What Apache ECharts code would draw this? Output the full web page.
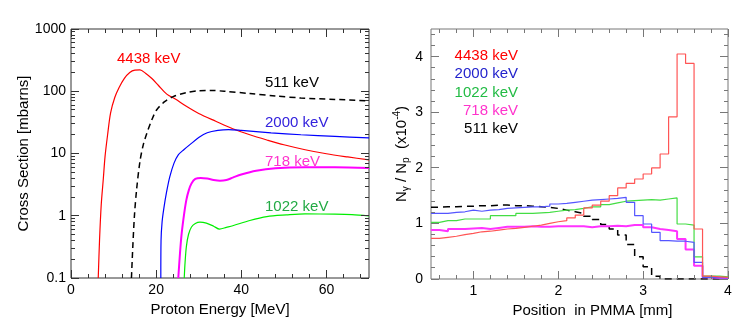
<!DOCTYPE html>
<html>
<head>
<meta charset="utf-8">
<script src="https://cdn.jsdelivr.net/npm/echarts@6/dist/echarts.min.js"></script>
<style>
html, body { margin: 0; padding: 0; background: #fff; }
#main { width: 747px; height: 328px; }
</style>
</head>
<body>
<div id="main"></div>
<script>
// left panel: cross section [mbarns] vs proton energy [MeV]
var e4438 = [6.4, 6.7, 7.1, 7.6, 8.0, 8.6, 9.3, 10.3, 11.3, 12.5, 13.8, 15.0, 16.2, 17.5, 19.0, 20.5, 22.5, 24.5, 27, 30, 34, 38, 42, 46, 50, 55, 60, 65, 70];
var s4438 = [0.1, 0.4, 1.5, 4, 9, 20, 45, 80, 115, 160, 200, 218, 220, 195, 160, 125, 90, 75, 58, 44, 33, 25, 20, 16.5, 13.8, 11.5, 9.9, 8.8, 7.9];
var e511 = [14.2, 14.5, 14.9, 15.4, 16.2, 17, 17.8, 19, 20.1, 22, 24, 27, 30, 33, 36, 42, 48, 54, 62, 70];
var s511 = [0.1, 0.3, 1, 2.6, 7.5, 14, 21, 35, 50, 68, 82, 95, 102, 103, 100, 92, 84, 78, 74, 70];
var e2000 = [21.1, 21.15, 21.4, 21.8, 22.4, 23.2, 24.2, 25.2, 26.5, 28, 30, 32, 34.5, 37, 40, 47, 54, 62, 70];
var s2000 = [0.1, 0.4, 0.8, 1.3, 2.3, 4.2, 7, 9.5, 11.5, 14, 18, 21.5, 23.5, 24.2, 23.5, 21.5, 20, 18.8, 17.8];
var e718 = [25.2, 25.6, 26, 26.6, 27.1, 27.7, 28.3, 29.2, 30.5, 32, 33.5, 35, 36.5, 38, 40, 43.5, 48, 55, 62, 70];
var s718 = [0.1, 0.25, 0.52, 1.1, 1.8, 2.6, 3.3, 3.9, 4.05, 3.95, 3.75, 3.65, 3.75, 4.1, 4.6, 5.3, 5.8, 6.0, 6.0, 5.85];
var e1022 = [26.6, 26.8, 27.1, 27.6, 28.3, 29.2, 30.3, 31.8, 33.5, 34.9, 36.5, 38, 42, 46, 50.6, 55, 62, 66, 70];
var s1022 = [0.1, 0.18, 0.32, 0.5, 0.66, 0.75, 0.79, 0.76, 0.68, 0.61, 0.65, 0.69, 0.84, 0.97, 1.03, 1.07, 1.06, 1.04, 0.99];

// right panel: N_gamma / N_p (x1e-4) per 0.1 mm bin
var binEdges = [0.5, 0.6, 0.7, 0.8, 0.9, 1.0, 1.1, 1.2, 1.3, 1.4, 1.5, 1.6, 1.7, 1.8, 1.9, 2.0, 2.1, 2.2, 2.3, 2.4,
  2.5, 2.6, 2.7, 2.8, 2.9, 3.0, 3.1, 3.2, 3.3, 3.4, 3.5, 3.6, 3.7, 3.8, 3.9, 4.0];
var h4438 = [0.73, 0.75, 0.77, 0.80, 0.82, 0.85, 0.86, 0.88, 0.90, 0.91, 0.93, 0.95, 0.97, 1.00, 1.03, 1.05, 1.10, 1.15, 1.28, 1.33,
  1.40, 1.50, 1.64, 1.72, 1.80, 1.89, 2.00, 2.25, 2.92, 4.05, 3.88, 0.90, 0.05, 0.04, 0.03];
var h2000 = [1.18, 1.18, 1.20, 1.21, 1.24, 1.22, 1.24, 1.25, 1.27, 1.28, 1.29, 1.30, 1.30, 1.31, 1.35, 1.36, 1.38, 1.40, 1.42, 1.43,
  1.44, 1.45, 1.47, 1.38, 1.14, 0.99, 0.84, 0.69, 0.68, 0.68, 0.66, 0.30, 0.03, 0.02, 0.02];
var h1022 = [1.02, 1.05, 1.05, 1.08, 1.08, 1.08, 1.08, 1.14, 1.14, 1.14, 1.18, 1.18, 1.19, 1.20, 1.22, 1.24, 1.25, 1.27, 1.30, 1.30,
  1.34, 1.37, 1.40, 1.41, 1.42, 1.43, 1.42, 1.44, 1.46, 0.99, 0.97, 0.40, 0.05, 0.05, 0.04];
var h718 = [0.88, 0.86, 0.90, 0.90, 0.91, 0.92, 0.90, 0.92, 0.94, 0.94, 0.94, 0.95, 0.94, 0.94, 0.95, 0.95, 0.95, 0.95, 0.93, 0.95,
  0.95, 0.96, 0.95, 0.97, 0.97, 0.93, 0.90, 0.88, 0.86, 0.72, 0.53, 0.24, 0.03, 0.02, 0.02];
var h511 = [1.29, 1.30, 1.30, 1.31, 1.31, 1.32, 1.32, 1.33, 1.33, 1.32, 1.32, 1.31, 1.30, 1.29, 1.27, 1.24, 1.21, 1.18, 1.13, 1.07,
  0.98, 0.90, 0.79, 0.62, 0.40, 0.22, 0.05, 0, 0, 0, 0, 0, 0, 0, 0];

// ticks
var eMajor = [0, 20, 40, 60];
var eMinor = [4, 8, 12, 16, 24, 28, 32, 36, 44, 48, 52, 56, 64, 68];
var csMajor = [0.1, 1, 10, 100, 1000];
var csMinor = [0.2, 0.3, 0.4, 0.5, 0.6, 0.7, 0.8, 0.9, 2, 3, 4, 5, 6, 7, 8, 9,
  20, 30, 40, 50, 60, 70, 80, 90, 200, 300, 400, 500, 600, 700, 800, 900];
var posMajor = [1, 2, 3, 4];
var posMinor = [0.6, 0.8, 1.2, 1.4, 1.6, 1.8, 2.2, 2.4, 2.6, 2.8, 3.2, 3.4, 3.6, 3.8];
var nMajor = [0, 1, 2, 3, 4];
var nMinor = [0.2, 0.4, 0.6, 0.8, 1.2, 1.4, 1.6, 1.8, 2.2, 2.4, 2.6, 2.8, 3.2, 3.4, 3.6, 3.8, 4.2, 4.4];

var FONT = 'Liberation Sans, Arial, sans-serif';

function zip(xs, ys) {
  return xs.map(function (x, i) { return [x, ys[i]]; });
}
function hist(vals) {
  return binEdges.map(function (x, i) { return [x, vals[Math.min(i, vals.length - 1)]]; });
}

// ROOT style inner ticks on all four sides: [x, y, side, length]
function tickData(xMajor, xMinor, yMajor, yMinor, xRef, yRef) {
  var d = [];
  [[xMajor, 8], [xMinor, 4]].forEach(function (g) {
    g[0].forEach(function (v) { d.push([v, yRef, 0, g[1]], [v, yRef, 1, g[1]]); });
  });
  [[yMajor, 8], [yMinor, 4]].forEach(function (g) {
    g[0].forEach(function (v) { d.push([xRef, v, 2, g[1]], [xRef, v, 3, g[1]]); });
  });
  return d;
}
function tickSeries(idx, data, color) {
  return {
    type: 'custom', xAxisIndex: idx, yAxisIndex: idx, data: data, silent: true, clip: false, z: 5,
    renderItem: function (params, api) {
      var p = api.coord([api.value(0), api.value(1)]);
      var cs = params.coordSys;
      var side = api.value(2), len = api.value(3);
      var bottom = cs.y + cs.height, right = cs.x + cs.width;
      var x = Math.round(p[0] - 0.5) + 0.5, y = Math.round(p[1] - 0.5) + 0.5;
      var shape;
      if (side === 0) shape = { x1: x, y1: bottom, x2: x, y2: bottom - len };
      else if (side === 1) shape = { x1: x, y1: cs.y, x2: x, y2: cs.y + len };
      else if (side === 2) shape = { x1: cs.x, y1: y, x2: cs.x + len, y2: y };
      else shape = { x1: right, y1: y, x2: right - len, y2: y };
      return { type: 'line', shape: shape, style: { stroke: color, lineWidth: 1 } };
    }
  };
}

var nameStyle = { color: '#000', fontFamily: FONT, fontSize: 15 };
var labelStyle = { color: '#000', fontFamily: FONT, fontSize: 14 };

function curve(name, data, color, width, dashed) {
  return {
    name: name, type: 'line', xAxisIndex: 0, yAxisIndex: 0, data: data,
    smooth: 0.3, showSymbol: false, symbol: 'none', silent: true,
    lineStyle: { color: color, width: width, type: dashed ? [6, 4] : 'solid' }
  };
}
function steps(name, data, color, width, dashed) {
  return {
    name: name, type: 'line', xAxisIndex: 1, yAxisIndex: 1, data: data, step: 'end',
    showSymbol: false, symbol: 'none', silent: true,
    lineStyle: { color: color, width: width, type: dashed ? [7, 5] : 'solid' }
  };
}
function label(text, x, y, color, align) {
  return {
    type: 'text', x: x, y: y, silent: true,
    style: { text: text, fill: color, font: '15px ' + FONT, align: align || 'left', verticalAlign: 'middle' }
  };
}

var chart = echarts.init(document.getElementById('main'));
chart.setOption({
  backgroundColor: '#fff',
  animation: false,
  grid: [
    { left: 71, top: 29, width: 298, height: 249, show: true, borderColor: '#333', borderWidth: 1 },
    { left: 431, top: 29, width: 297, height: 250, show: true, borderColor: '#777', borderWidth: 1 }
  ],
  xAxis: [
    {
      gridIndex: 0, type: 'value', min: 0, max: 70,
      axisLine: { show: false }, axisTick: { show: false }, splitLine: { show: false },
      axisLabel: Object.assign({ customValues: eMajor, margin: 5 }, labelStyle),
      name: 'Proton Energy [MeV]', nameLocation: 'middle', nameGap: 20, nameTextStyle: nameStyle
    },
    {
      gridIndex: 1, type: 'value', min: 0.5, max: 4,
      axisLine: { show: false }, axisTick: { show: false }, splitLine: { show: false },
      axisLabel: Object.assign({ customValues: posMajor, margin: 5 }, labelStyle),
      name: 'Position  in PMMA [mm]', nameLocation: 'middle', nameGap: 20,
      nameTextStyle: Object.assign({ padding: [0, 0, 0, 26] }, nameStyle)
    }
  ],
  yAxis: [
    {
      gridIndex: 0, type: 'log', min: 0.1, max: 1000,
      axisLine: { show: false }, axisTick: { show: false }, splitLine: { show: false },
      axisLabel: Object.assign({ customValues: csMajor, margin: 5, formatter: function (v) { return String(v); } }, labelStyle),
      name: 'Cross Section [mbarns]', nameLocation: 'middle', nameRotate: 90, nameGap: 36, nameTextStyle: nameStyle
    },
    {
      gridIndex: 1, type: 'value', min: 0, max: 4.5,
      axisLine: { show: false }, axisTick: { show: false }, splitLine: { show: false },
      axisLabel: Object.assign({ customValues: nMajor, margin: 8, formatter: function (v) { return String(v); } }, labelStyle),
      name: '{n|N}{s|γ}{n| / N}{s|p}{n|  (x10}{u|-4}{n|)}', nameLocation: 'middle', nameRotate: 90, nameGap: 18,
      nameTextStyle: {
        color: '#000', fontFamily: FONT,
        rich: {
          n: { fontFamily: FONT, fontSize: 15, color: '#000' },
          s: { fontFamily: FONT, fontSize: 10, color: '#000', padding: [9, 0, 0, 0] },
          u: { fontFamily: FONT, fontSize: 10, color: '#000', padding: [0, 0, 9, 0] }
        }
      }
    }
  ],
  series: [
    curve('4438 keV', zip(e4438, s4438), '#ff0000', 1.2),
    curve('511 keV', zip(e511, s511), '#000000', 1.5, true),
    curve('2000 keV', zip(e2000, s2000), '#0000ff', 1.2),
    curve('718 keV', zip(e718, s718), '#ff00ff', 2),
    curve('1022 keV', zip(e1022, s1022), '#00ee00', 1.2),
    steps('511 keV', hist(h511), '#000000', 1.5, true),
    steps('718 keV', hist(h718), '#ff33ff', 2),
    steps('1022 keV', hist(h1022), '#44dd44', 1.2),
    steps('2000 keV', hist(h2000), '#5555ff', 1.2),
    steps('4438 keV', hist(h4438), '#ff5555', 1.2),
    tickSeries(0, tickData(eMajor, eMinor, csMajor, csMinor, 0, 1), '#333'),
    tickSeries(1, tickData(posMajor, posMinor, nMajor, nMinor, 0.5, 0), '#777')
  ],
  graphic: [
    label('4438 keV', 117, 59, '#ff0000'),
    label('511 keV', 265, 83, '#000000'),
    label('2000 keV', 265, 123, '#3322dd'),
    label('718 keV', 265, 162, '#ff33cc'),
    label('1022 keV', 265, 207, '#22aa44'),
    label('4438 keV', 518, 56, '#ff0000', 'right'),
    label('2000 keV', 518, 74, '#2222cc', 'right'),
    label('1022 keV', 518, 93, '#22bb44', 'right'),
    label('718 keV', 518, 111, '#ff33cc', 'right'),
    label('511 keV', 518, 129, '#000000', 'right')
  ]
});
</script>
</body>
</html>
